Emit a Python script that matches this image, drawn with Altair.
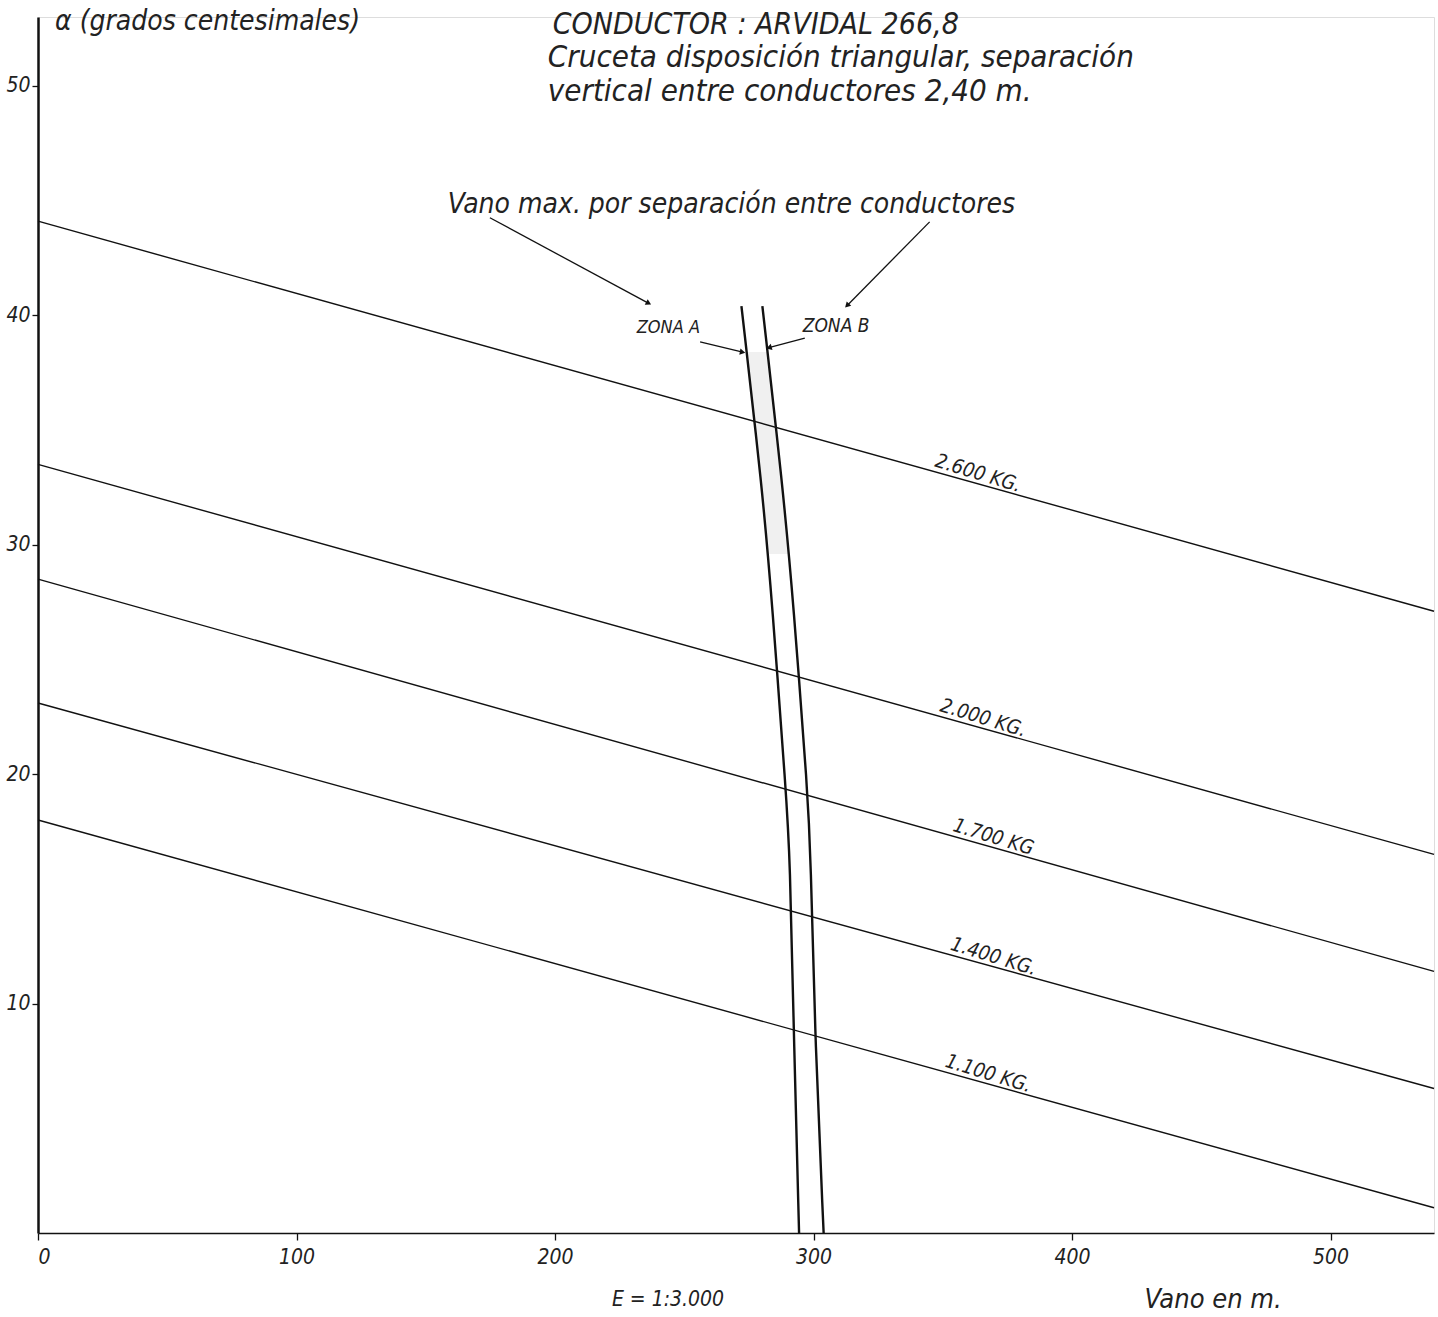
import altair as alt
import pandas as pd

FONT = "DejaVu Sans Condensed, Liberation Sans Narrow, DejaVu Sans, sans-serif"

# Span (m) at the two ends of each tension curve
span_ends = [0, 540]
# Angle alpha (grados centesimales) at those ends, one curve per tension
curve_names = ["2.600 KG.", "2.000 KG.", "1.700 KG", "1.400 KG.", "1.100 KG."]
curve_start = [44.1, 33.5, 28.5, 23.1, 18.0]
curve_end = [27.1, 16.5, 11.4, 6.3, 1.1]
label_span = [346, 348, 353, 352, 350]

# Maximum span limited by conductor separation (zone A / zone B boundaries)
zone_alpha = [40.4, 32.4, 27.6, 18.9, 16.7, 8.0, 0.0]
zone_a_span = [272.1, 280.2, 283.9, 289.5, 290.8, 292.5, 294.4]
zone_b_span = [280.2, 288.2, 292.1, 297.9, 298.8, 300.7, 303.9]

# Lightly shaded strip between the two boundaries
shade_alpha = [38.4, 32.4, 29.6]
shade_a = [274.2, 280.2, 282.4]
shade_b = [282.2, 288.2, 290.5]

# Free text notes: text, span, alpha, font size
note_text = ["α (grados centesimales)", "CONDUCTOR : ARVIDAL 266,8",
             "Cruceta disposición triangular, separación",
             "vertical entre conductores  2,40 m.",
             "Vano max. por separación entre conductores",
             "ZONA A", "ZONA B", "E = 1:3.000", "Vano en m."]
note_u = [6.6, 199.1, 197.2, 197.2, 158.5, 231.6, 295.8, 222.0, 428.0]
note_v = [52.8, 52.66, 51.22, 49.74, 44.81, 39.45, 39.54, -2.92, -2.92]
note_size = [28, 30, 31, 31, 28, 18, 19, 21, 27]

# Leader arrows (start -> end)
arrow_u0 = [174.8, 344.9, 256.1, 296.6]
arrow_v0 = [44.25, 44.07, 38.84, 39.0]
arrow_u1 = [235.9, 313.2, 272.2, 283.1]
arrow_v1 = [40.54, 40.45, 38.4, 38.6]
arrow_dir = [118.3, 224.7, 100.9, 254.1]

x_ticks = [0, 100, 200, 300, 400, 500]
y_ticks = [10, 20, 30, 40, 50]

xs = alt.Scale(domain=[0, 540], nice=False, zero=False)
ys = alt.Scale(domain=[0, 53], nice=False, zero=False)

curves = pd.DataFrame(
    [{"curve": n, "vano": span_ends[0], "alpha": a0} for n, a0 in zip(curve_names, curve_start)]
    + [{"curve": n, "vano": span_ends[1], "alpha": a1} for n, a1 in zip(curve_names, curve_end)]
)

labels = pd.DataFrame({
    "text": curve_names,
    "vano": label_span,
    "alpha": [a0 + (a1 - a0) * (u - span_ends[0]) / (span_ends[1] - span_ends[0])
              for a0, a1, u in zip(curve_start, curve_end, label_span)],
})

zones = pd.DataFrame(
    [{"zona": "A", "i": i, "vano": u, "alpha": v} for i, (u, v) in enumerate(zip(zone_a_span, zone_alpha))]
    + [{"zona": "B", "i": i, "vano": u, "alpha": v} for i, (u, v) in enumerate(zip(zone_b_span, zone_alpha))]
)

shade = pd.DataFrame({"alpha": shade_alpha, "a": shade_a, "b": shade_b})

notes = pd.DataFrame({"text": note_text, "vano": note_u, "alpha": note_v, "size": note_size})

arrows = pd.DataFrame({"u0": arrow_u0, "v0": arrow_v0, "u1": arrow_u1, "v1": arrow_v1, "ang": arrow_dir})

x_axis = alt.Axis(values=x_ticks, title=None, grid=False, domainWidth=1.5, domainColor="#111",
                  tickSize=7, tickColor="#111", tickWidth=1.3, labelPadding=6,
                  labelFont=FONT, labelFontStyle="italic", labelFontSize=21, labelColor="#222")
y_axis = alt.Axis(values=y_ticks, title=None, grid=False, domainWidth=2.5, domainColor="#111",
                  tickSize=6, tickColor="#111", tickWidth=1.3, labelPadding=2,
                  labelFont=FONT, labelFontStyle="italic", labelFontSize=21, labelColor="#222")

band = alt.Chart(shade).mark_area(orient="horizontal", color="#f0f0f0").encode(
    y=alt.Y("alpha:Q", scale=ys, axis=y_axis),
    x=alt.X("a:Q", scale=xs, axis=x_axis),
    x2="b:Q",
)

curve_layer = alt.Chart(curves).mark_line(color="#111", strokeWidth=1.4).encode(
    x=alt.X("vano:Q", scale=xs),
    y=alt.Y("alpha:Q", scale=ys),
    detail="curve:N",
)

zone_layer = alt.Chart(zones).mark_line(color="#111", strokeWidth=2.4, interpolate="basis").encode(
    x=alt.X("vano:Q", scale=xs),
    y=alt.Y("alpha:Q", scale=ys),
    detail="zona:N",
    order="i:Q",
)

label_layer = alt.Chart(labels).mark_text(
    align="left", baseline="bottom", angle=17, dy=-1, font=FONT, fontStyle="italic",
    fontSize=20, color="#222"
).encode(
    x=alt.X("vano:Q", scale=xs),
    y=alt.Y("alpha:Q", scale=ys),
    text="text:N",
)

note_layer = alt.Chart(notes).mark_text(
    align="left", baseline="middle", font=FONT, fontStyle="italic", color="#222"
).encode(
    x=alt.X("vano:Q", scale=xs),
    y=alt.Y("alpha:Q", scale=ys),
    text="text:N",
    size=alt.Size("size:Q", scale=None, legend=None),
)

arrow_lines = alt.Chart(arrows).mark_rule(color="#111", strokeWidth=1.3).encode(
    x=alt.X("u0:Q", scale=xs),
    y=alt.Y("v0:Q", scale=ys),
    x2="u1:Q",
    y2="v1:Q",
)

arrow_heads = alt.Chart(arrows).mark_point(shape="triangle", filled=True, size=40, color="#111",
                                           opacity=1).encode(
    x=alt.X("u1:Q", scale=xs),
    y=alt.Y("v1:Q", scale=ys),
    angle=alt.Angle("ang:Q", scale=None),
)

chart = alt.layer(
    band, curve_layer, zone_layer, label_layer, note_layer, arrow_lines, arrow_heads
).properties(
    width=1396, height=1216,
    padding={"left": 38, "top": 17, "right": 4, "bottom": 84},
    autosize=alt.AutoSizeParams(type="none"),
).configure_view(stroke=None).configure(background="white")

chart.save("out.html", embed_options={"renderer": "svg", "actions": False})
